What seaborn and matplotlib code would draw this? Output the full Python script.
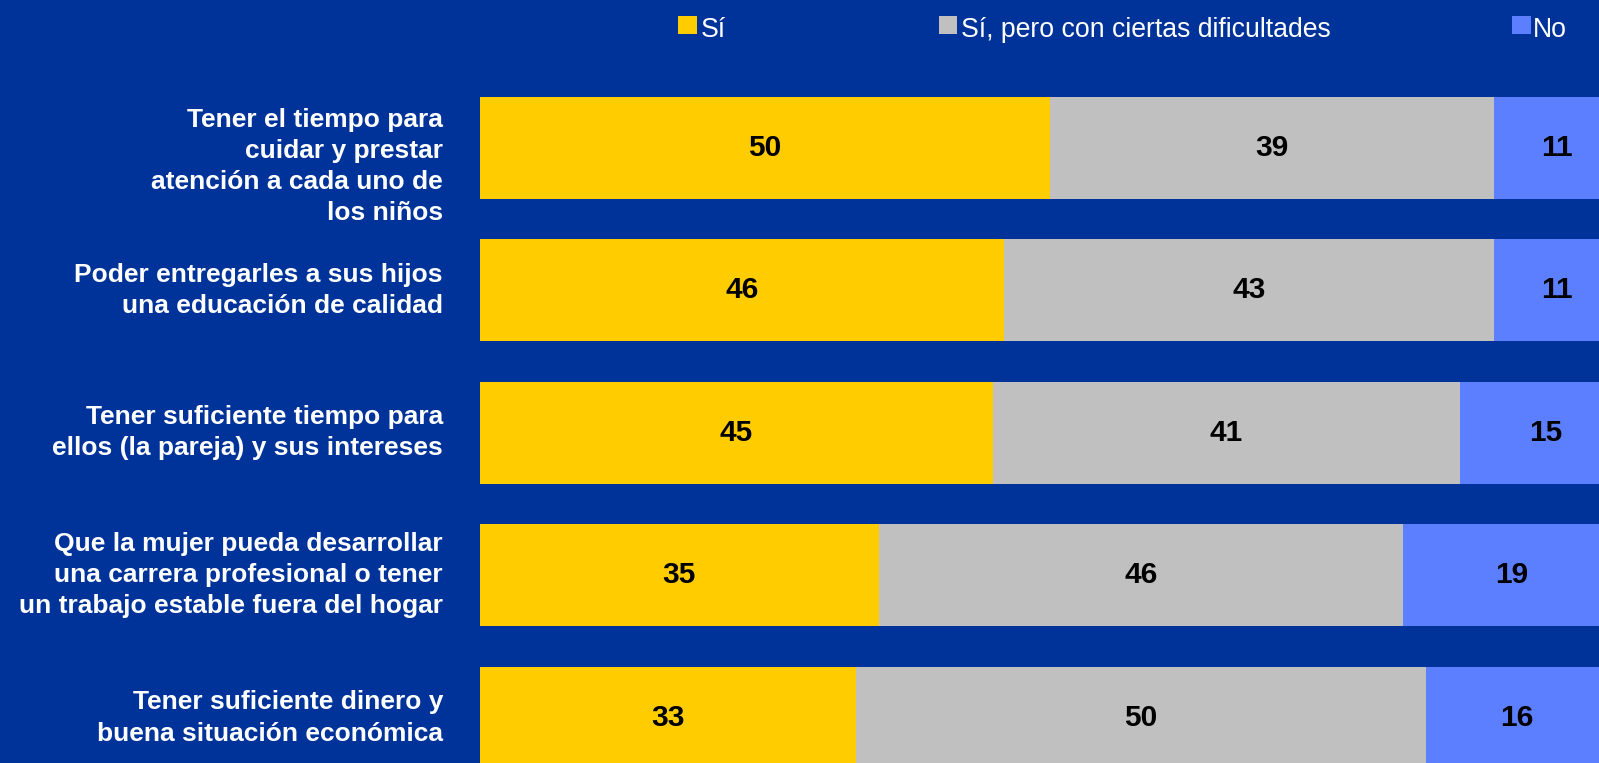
import matplotlib
matplotlib.use("Agg")
import matplotlib.pyplot as plt
import matplotlib.transforms as mtransforms
from matplotlib.patches import Rectangle
import seaborn as sns
import pandas as pd
import numpy as np

categories = [
    "Tener el tiempo para\ncuidar y prestar\natención a cada uno de\nlos niños",
    "Poder entregarles a sus hijos\nuna educación de calidad",
    "Tener suficiente tiempo para\nellos (la pareja) y sus intereses",
    "Que la mujer pueda desarrollar\nuna carrera profesional o tener\nun trabajo estable fuera del hogar",
    "Tener suficiente dinero y\nbuena situación económica",
]
si = [50, 46, 45, 35, 33]
si_dif = [39, 43, 41, 46, 50]
no = [11, 11, 15, 19, 16]
series_names = ["Sí", "Sí, pero con ciertas dificultades", "No"]

BG = "#003399"
COLORS = ["#FFCC00", "#C0C0C0", "#5B7FFF"]

sns.set_theme(style="white")
plt.rcParams["font.family"] = ["Liberation Sans", "DejaVu Sans"]

df = pd.DataFrame({"cat": categories, "si": si, "dif": si_dif, "no": no})
df["c1"] = df["si"]
df["c2"] = df["si"] + df["dif"]
df["c3"] = df["si"] + df["dif"] + df["no"]

W, H = 1599, 763
fig = plt.figure(figsize=(W / 100, H / 100), dpi=100, facecolor=BG)
ax_left, ax_right, ax_top = 480, 1599, 76.4
ax = fig.add_axes([ax_left / W, 0, (ax_right - ax_left) / W, (H - ax_top) / H])
ax.set_facecolor(BG)

bw = 0.715
for col, color in zip(["c3", "c2", "c1"], COLORS[::-1]):
    sns.barplot(data=df, x=col, y="cat", orient="h", color=color,
                width=bw, ax=ax, saturation=1, edgecolor="none", linewidth=0)

ax.set_xlim(0, 98.2)
ax.set_ylim(4.3156, -0.5)
ax.set_xlabel("")
ax.set_ylabel("")
ax.set_xticks([])
ax.set_yticks([])
for s in ax.spines.values():
    s.set_visible(False)

# value labels
for i in range(len(categories)):
    starts = [0, si[i], si[i] + si_dif[i]]
    vals = [si[i], si_dif[i], no[i]]
    for st, v in zip(starts, vals):
        ax.text(st + v / 2, i, f"{v}", ha="center", va="center",
                fontsize=21.5, fontweight="bold", color="black")

# category labels
trans = mtransforms.blended_transform_factory(fig.transFigure, ax.transData)
y_off = [0.13, 0, 0, 0.0, 0]
for i, lab in enumerate(categories):
    ax.text(443 / W, i + y_off[i], lab, transform=trans, ha="right", va="center",
            fontsize=19, fontweight="bold", color="white", linespacing=1.37)

# legend
sq = 18.5
leg_items = [(678, 701), (938.5, 961), (1512, 1533)]
sq_top = 15.5
baseline = 37
for (sx, tx), name, color in zip(leg_items, series_names, COLORS):
    fig.patches.append(Rectangle((sx / W, (H - sq_top - sq) / H), sq / W, sq / H,
                                 transform=fig.transFigure, facecolor=color,
                                 edgecolor="none"))
    fig.text(tx / W, (H - baseline) / H, name, ha="left", va="baseline",
             fontsize=19.2, color="white")

fig.savefig("out.png", dpi=100, facecolor=BG)
